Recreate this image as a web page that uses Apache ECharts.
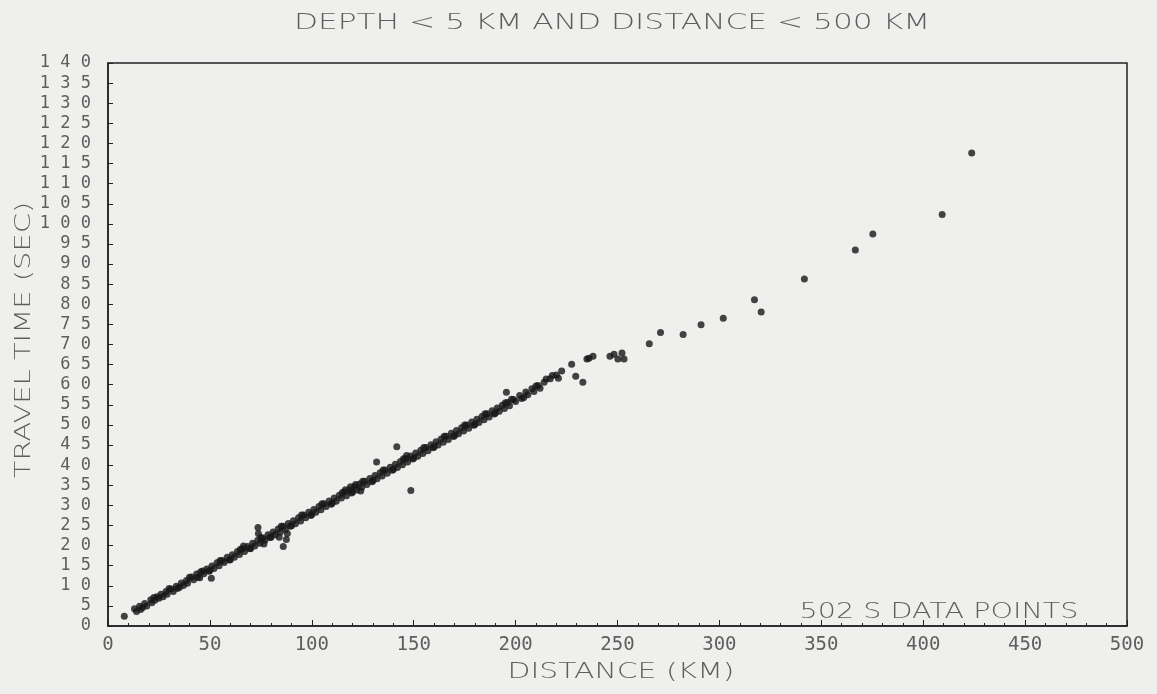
<!DOCTYPE html>
<html>
<head>
<meta charset="utf-8">
<script src="https://cdn.jsdelivr.net/npm/echarts@6/dist/echarts.min.js"></script>
<style>
  html, body { margin: 0; padding: 0; background: #efefed; }
  #chart { width: 1157px; height: 694px; }
</style>
</head>
<body>
<div id="chart"></div>
<script>
// S-wave travel time vs epicentral distance
var distanceKm = [
  8, 13, 14, 15.5, 16, 18, 19, 21, 21.5, 23, 24, 26, 27, 28.5, 29, 31, 32, 33.5, 34, 36, 37, 38.5, 39,
  41, 42, 43.5, 44, 45, 46.5, 47, 48.5, 49.5, 50.7, 51, 52, 53.5, 54.5, 56, 57, 58.5, 59.5,
  61, 62, 63.5, 64.5, 66, 67, 66.5, 68.5, 69.5, 71, 72, 73.6, 73.8, 73.5, 74.5, 76, 77, 76.5, 78.5, 79.5,
  81, 82, 83.5, 84.5, 84, 86, 87, 86, 87.5, 88.5, 89.5, 88, 91, 92, 93.5, 94.5, 96, 97, 98.5, 99.5,
  101, 102, 103.5, 104.5, 106, 107, 108.5, 109.5, 111, 112, 113.5, 114.5, 116, 117, 116.5, 118.5, 119.5, 119,
  121, 122, 121.5, 123.5, 124.5, 124, 126, 127, 128.5, 129.5, 131, 132, 131.8, 133.5, 134.5, 136, 137, 138.5, 139.5,
  141, 142, 141.7, 143.5, 144.5, 146, 147, 146.5, 148.5, 149.5, 148.6, 151, 152, 153.5, 154.5, 156, 157, 158.5, 159.5,
  161, 162, 163.5, 164.5, 166, 167, 168.5, 169.5, 171, 172, 173.5, 174.5, 176, 177, 178.5, 179.5,
  181, 182, 183.5, 184.5, 186, 187, 188.5, 189.5, 191, 192, 193.5, 194.5, 195.5, 196, 197, 199, 200,
  202, 203, 205, 206, 208, 209, 211, 212, 214, 215, 217, 218, 220, 221, 222.6, 227.5, 229.5, 233, 235, 236, 238,
  246.3, 248.3, 250.2, 252.2, 253.2, 265.6, 271.1, 282.2, 291, 301.9, 317.2, 320.5, 341.7, 366.7, 375.3, 409.3, 423.8
];
var travelTimeSec = [
  2.4, 4.3, 3.6, 4.9, 4.1, 5.6, 5.0, 6.5, 5.8, 6.4, 7.3, 7.9, 7.3, 8.6, 7.9, 9.2, 8.6, 9.9, 9.3, 10.7, 10.1, 11.3, 10.6,
  12.2, 11.5, 12.9, 12.1, 12.0, 13.7, 13.0, 14.2, 13.6, 11.9, 14.9, 14.3, 15.7, 15.0, 16.3, 15.8, 17.1, 16.4,
  17.7, 17.1, 18.5, 17.8, 19.2, 18.5, 19.9, 19.8, 19.2, 20.6, 19.9, 24.5, 23.0, 21.3, 20.6, 21.9, 21.3, 20.4, 22.7, 22.0,
  23.4, 22.7, 24.1, 23.3, 22.1, 24.8, 24.0, 19.8, 21.5, 25.5, 24.8, 23.0, 26.2, 25.4, 26.9, 26.1, 27.6, 26.9, 28.3, 27.5,
  29.0, 28.3, 29.7, 28.9, 30.4, 29.7, 31.1, 30.3, 31.8, 31.0, 32.5, 31.8, 33.3, 32.4, 33.9, 33.9, 33.1, 34.6,
  34.6, 33.8, 35.2, 35.3, 34.5, 33.6, 36.0, 35.2, 36.7, 35.9, 37.4, 36.6, 40.8, 38.1, 37.3, 38.8, 38.0, 39.5, 38.7,
  40.2, 39.4, 44.6, 40.9, 40.1, 41.6, 40.8, 42.4, 42.3, 41.5, 33.7, 43.0, 42.2, 43.7, 42.9, 44.4, 43.6, 45.1, 44.3,
  45.8, 45.0, 46.5, 45.7, 47.2, 46.4, 47.9, 47.1, 48.6, 47.8, 49.3, 48.5, 50.0, 49.2, 50.7, 49.9,
  51.4, 50.6, 52.1, 51.3, 52.8, 52.0, 53.5, 52.7, 54.2, 53.4, 54.9, 54.1, 58.1, 55.6, 54.8, 56.3, 55.8,
  57.3, 56.6, 58.2, 57.5, 59.0, 58.3, 59.8, 59.1, 60.6, 61.4, 61.5, 62.3, 62.4, 61.6, 63.4, 65.1, 62.1, 60.6, 66.4, 66.6, 67.1,
  67.1, 67.6, 66.4, 67.9, 66.4, 70.2, 73.0, 72.5, 74.9, 76.5, 81.1, 78.1, 86.3, 93.5, 97.5, 102.3, 117.6
];
// more points inside the dense band
var bandKm = [
  17, 22.5, 25, 30, 35, 40, 45.5, 50, 55, 60, 65, 70, 75, 80, 85, 90, 95, 100, 105, 110,
  115, 120, 125, 130, 135, 140, 145, 150, 155, 160, 165, 170, 175, 180, 185, 190, 195, 198, 204, 210
];
var bandSec = [
  4.6, 7.1, 6.9, 9.3, 9.6, 12.1, 13.5, 13.8, 16.3, 16.5, 19.1, 19.3, 22.0, 22.1, 24.8, 24.9, 27.6, 27.7, 30.4, 30.5,
  33.2, 33.3, 36.0, 36.1, 38.8, 38.9, 41.6, 41.7, 44.4, 44.5, 47.2, 47.3, 50.0, 50.1, 52.8, 52.9, 55.5, 56.4, 56.8, 59.7
];

var chartTitle = 'DEPTH < 5 KM AND DISTANCE < 500 KM';
var xName = 'DISTANCE (KM)';
var yName = 'TRAVEL TIME (SEC)';
var noteText = '502 S DATA POINTS';

var xMin = 0, xMax = 500, xStep = 50;
var yMin = 0, yMax = 140, yStep = 5;

var points = [];
for (var i = 0; i < distanceKm.length; i++) {
  points.push([distanceKm[i], travelTimeSec[i]]);
}
for (var j = 0; j < bandKm.length; j++) {
  points.push([bandKm[j], bandSec[j]]);
}

var ink = '#222';
var textInk = '#5e5e5e';
var textFont = function (size) {
  return '200 ' + size + 'px "DejaVu Sans"';
};

var chart = echarts.init(document.getElementById('chart'));

var option = {
  backgroundColor: '#efefed',
  animation: false,
  grid: {
    left: 108,
    right: 30,
    top: 63,
    bottom: 68,
    show: true,
    borderColor: ink,
    borderWidth: 1.5,
    backgroundColor: 'transparent'
  },
  xAxis: {
    type: 'value',
    min: xMin,
    max: xMax,
    interval: xStep,
    axisLine: { show: true, lineStyle: { color: ink, width: 1.5 } },
    axisTick: { show: true, inside: true, length: 6, lineStyle: { color: ink } },
    minorTick: { show: true, splitNumber: 5, length: 3, lineStyle: { color: ink } },
    splitLine: { show: false },
    axisLabel: {
      margin: 10,
      fontFamily: 'DejaVu Sans Mono',
      fontSize: 19,
      color: textInk
    }
  },
  yAxis: {
    type: 'value',
    min: yMin,
    max: yMax,
    interval: yStep,
    axisLine: { show: true, lineStyle: { color: ink, width: 1.5 } },
    axisTick: { show: true, inside: true, length: 5, lineStyle: { color: ink } },
    splitLine: { show: false },
    axisLabel: {
      margin: 17,
      fontFamily: 'DejaVu Sans Mono',
      fontSize: 17,
      color: textInk,
      formatter: function (v) {
        return String(v).split('').join(' ');
      }
    }
  },
  graphic: [
    {
      type: 'text', x: 612, y: 23, scaleX: 1.42,
      style: { text: chartTitle, font: textFont(22), fill: textInk, textAlign: 'center', textVerticalAlign: 'middle' }
    },
    {
      type: 'text', x: 621, y: 673, scaleX: 1.42,
      style: { text: xName, font: textFont(21), fill: textInk, textAlign: 'center', textVerticalAlign: 'middle' }
    },
    {
      type: 'text', x: 25, y: 340, rotation: Math.PI / 2, scaleX: 1.38,
      style: { text: yName, font: textFont(21), fill: textInk, textAlign: 'center', textVerticalAlign: 'middle' }
    },
    {
      type: 'text', x: 939, y: 612, scaleX: 1.3,
      style: { text: noteText, font: textFont(22), fill: textInk, textAlign: 'center', textVerticalAlign: 'middle' }
    }
  ],
  series: [{
    type: 'scatter',
    data: points,
    symbol: 'circle',
    symbolSize: 7,
    itemStyle: { color: '#161616' },
    silent: true
  }]
};

chart.setOption(option);
</script>
</body>
</html>
